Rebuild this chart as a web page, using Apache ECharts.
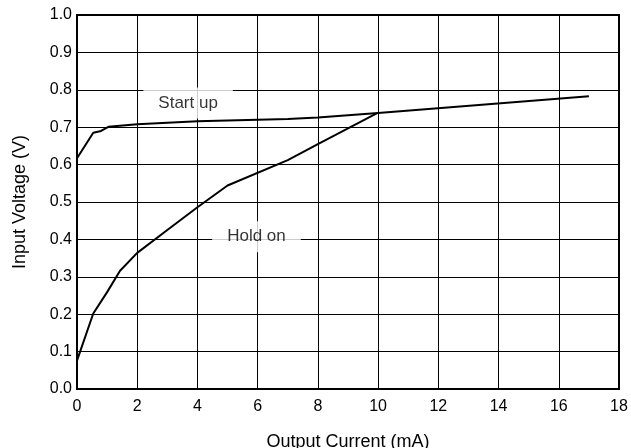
<!DOCTYPE html>
<html>
<head>
<meta charset="utf-8">
<script src="https://cdn.jsdelivr.net/npm/echarts@6/dist/echarts.min.js"></script>
<style>html,body{margin:0;padding:0;background:#fff;}#c{width:631px;height:448px;}</style>
</head>
<body>
<div id="c"></div>
<script>
var startUpX = [0, 0.54, 0.8, 1.04, 2, 4, 6, 7, 8, 10, 17];
var startUpY = [0.617, 0.685, 0.69, 0.701, 0.708, 0.716, 0.72, 0.722, 0.726, 0.738, 0.783];
var holdOnX = [0, 0.54, 1, 1.43, 2, 3, 4, 5, 7, 8, 10];
var holdOnY = [0.076, 0.202, 0.259, 0.316, 0.364, 0.425, 0.486, 0.544, 0.612, 0.655, 0.739];
var annotationText = ['Start up', 'Hold on'];
var annotationAt = [[3.69, 0.765], [5.96, 0.407]];
var xTitle = 'Output Current (mA)';
var yTitle = 'Input Voltage (V)';

function pairs(xs, ys) { return xs.map(function (x, i) { return [x, ys[i]]; }); }

var chart = echarts.init(document.getElementById('c'));
var font = 'Liberation Sans, Arial, sans-serif';
chart.setOption({
  animation: false,
  backgroundColor: '#fff',
  grid: { left: 77, right: 12, top: 15, bottom: 59, outerBoundsMode: 'none', containLabel: false, show: true, borderColor: '#000', borderWidth: 2, backgroundColor: 'transparent' },
  xAxis: {
    type: 'value', min: 0, max: 18, interval: 2,
    name: xTitle, nameLocation: 'middle', nameGap: 44,
    nameTextStyle: { fontFamily: font, fontSize: 18, color: '#000' },
    axisLine: { show: true, lineStyle: { color: '#000', width: 2 } },
    axisTick: { show: false },
    axisLabel: { fontFamily: font, fontSize: 16, color: '#000', margin: 10 },
    splitLine: { show: true, lineStyle: { color: '#000', width: 1 } }
  },
  yAxis: {
    type: 'value', min: 0, max: 1, interval: 0.1,
    name: yTitle, nameLocation: 'middle', nameGap: 48,
    nameTextStyle: { fontFamily: font, fontSize: 18, color: '#000' },
    axisLine: { show: true, lineStyle: { color: '#000', width: 2 } },
    axisTick: { show: false },
    axisLabel: { fontFamily: font, fontSize: 16, color: '#000', margin: 5, formatter: function (v) { return v.toFixed(1); } },
    splitLine: { show: true, lineStyle: { color: '#000', width: 1 } }
  },
  series: [
    { type: 'line', data: pairs(startUpX, startUpY), showSymbol: false, symbol: 'none', lineStyle: { color: '#000', width: 2 }, z: 3 },
    { type: 'line', data: pairs(holdOnX, holdOnY), showSymbol: false, symbol: 'none', lineStyle: { color: '#000', width: 2 }, z: 3 },
    {
      type: 'scatter', symbolSize: 1, itemStyle: { color: 'rgba(0,0,0,0)' }, z: 4,
      data: annotationAt.map(function (p, i) { return { value: p, name: annotationText[i] }; }),
      label: {
        show: true, position: 'inside', formatter: '{b}',
        fontFamily: font, fontSize: 17, color: '#000',
        backgroundColor: '#fff', padding: [7, 15, 7, 15]
      }
    }
  ]
});
</script>
</body>
</html>
